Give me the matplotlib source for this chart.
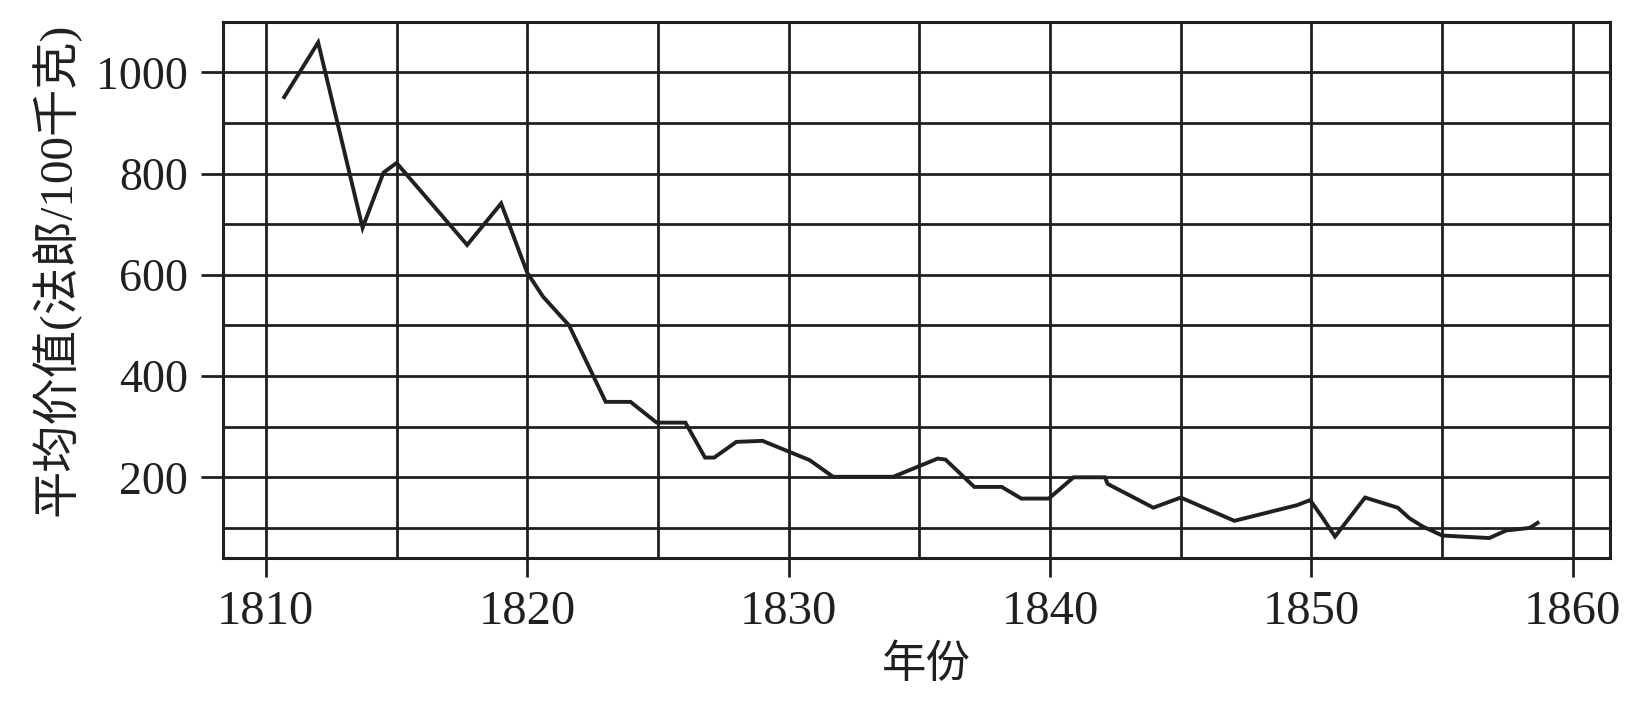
import matplotlib
matplotlib.use('Agg')
import matplotlib.pyplot as plt

# values
years = [1810.7, 1812.0, 1813.7, 1814.5, 1815.0, 1817.7, 1819.0, 1820.0, 1820.6, 1821.6,
         1823.0, 1823.95, 1824.95, 1826.05, 1826.8, 1827.15, 1828.0, 1829.0, 1830.8, 1831.7,
         1834.0, 1835.7, 1836.0, 1837.1, 1838.15, 1838.9, 1839.95, 1840.9, 1842.1, 1842.2,
         1843.95, 1845.0, 1847.05, 1849.45, 1849.95, 1850.4, 1850.9, 1852.05, 1853.3, 1853.75,
         1854.25, 1855.0, 1856.8, 1857.45, 1858.35, 1858.65]
values = [951, 1059, 693, 802, 821, 659, 741, 604, 557, 500,
          349, 349, 308, 308, 239, 239, 270, 272, 234, 201,
          201, 237, 235, 181, 181, 158, 158, 200, 200, 187,
          140, 160, 114, 145, 155, 122, 83, 160, 140, 119,
          103, 85, 80, 95, 100, 110]

x_major = [1810, 1820, 1830, 1840, 1850, 1860]
x_minor = [1815, 1825, 1835, 1845, 1855]
y_major = [200, 400, 600, 800, 1000]
y_minor = [100, 300, 500, 700, 900]

xlabel = '年份'
ylabel = '平均价值(法郎/100千克)'

ink = '#231f20'

fig = plt.figure(figsize=(16.39, 7.02), dpi=100)
ax = fig.add_axes([223/1639, 1-558.3/702, 1387/1639, 536.6/702])

ax.plot(years, values, color=ink, lw=2.8, solid_joinstyle='miter', zorder=3)

ax.set_xlim(1808.36, 1861.42)
ax.set_ylim(40, 1100)

ax.set_xticks(x_major)
ax.set_xticks(x_minor, minor=True)
ax.set_yticks(y_major)
ax.set_yticks(y_minor, minor=True)
ax.grid(which='both', color=ink, lw=2.0)
ax.set_axisbelow(True)

ax.tick_params(which='major', direction='out', color=ink, width=2.0)
ax.tick_params(axis='y', which='major', length=16, pad=9)
ax.tick_params(axis='x', which='major', length=14, pad=9)
ax.tick_params(which='minor', length=0)

for sp in ax.spines.values():
    sp.set_color(ink)
    sp.set_linewidth(2.2)

for lab in ax.get_yticklabels():
    lab.set_fontfamily('Liberation Serif')
    lab.set_fontsize(33)
    lab.set_color(ink)
for lab in ax.get_xticklabels():
    lab.set_fontfamily('Liberation Serif')
    lab.set_fontsize(35)
    lab.set_color(ink)

ax.set_xlabel(xlabel, family=['Noto Sans CJK SC'], fontsize=32, color=ink)
ax.xaxis.set_label_coords((926-223)/1387, -(664-558.3)/536.6)
ax.xaxis.label.set_va('center')

ax.set_ylabel(ylabel, family=['Liberation Serif', 'Noto Sans CJK SC'], fontsize=34, color=ink)
ax.yaxis.set_label_coords((55-223)/1387, (558.3-269.5)/536.6)
ax.yaxis.label.set_va('center')

fig.savefig('out.png', dpi=100)
